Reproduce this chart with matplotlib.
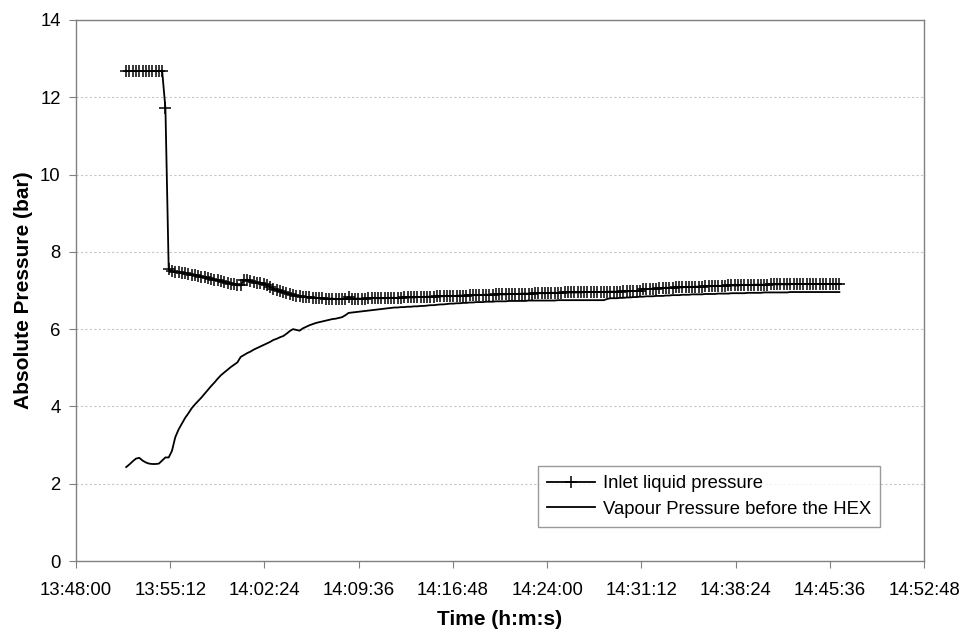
import numpy as np
import matplotlib
matplotlib.use("Agg")
import matplotlib.pyplot as plt

plt.rcParams['font.family'] = ['Liberation Sans', 'DejaVu Sans']

# Sampling: one reading every 15 s starting at 13:51:50
start_time = "13:51:50"
sample_step_s = 15

inlet_liquid_pressure = [
    12.68, 12.68, 12.68, 12.68, 12.68, 12.68, 12.68, 12.68, 12.68, 12.68,
    12.68, 12.68, 11.72, 7.55, 7.50, 7.48, 7.47, 7.45, 7.44, 7.43,
    7.41, 7.40, 7.38, 7.36, 7.34, 7.32, 7.30, 7.28, 7.26, 7.24,
    7.22, 7.20, 7.18, 7.16, 7.14, 7.13, 7.27, 7.28, 7.24, 7.22,
    7.20, 7.19, 7.18, 7.13, 7.09, 7.05, 7.02, 6.99, 6.96, 6.93,
    6.91, 6.89, 6.87, 6.85, 6.84, 6.83, 6.82, 6.81, 6.81, 6.80,
    6.80, 6.79, 6.79, 6.79, 6.78, 6.78, 6.78, 6.79, 6.84, 6.79,
    6.79, 6.79, 6.79, 6.79, 6.80, 6.80, 6.80, 6.80, 6.80, 6.80,
    6.81, 6.81, 6.81, 6.81, 6.81, 6.82, 6.82, 6.82, 6.82, 6.83,
    6.83, 6.83, 6.84, 6.84, 6.84, 6.85, 6.85, 6.85, 6.86, 6.86,
    6.86, 6.86, 6.87, 6.87, 6.87, 6.88, 6.88, 6.88, 6.88, 6.89,
    6.89, 6.89, 6.89, 6.90, 6.90, 6.90, 6.90, 6.91, 6.91, 6.91,
    6.91, 6.92, 6.92, 6.92, 6.92, 6.93, 6.93, 6.93, 6.93, 6.94,
    6.94, 6.94, 6.94, 6.94, 6.95, 6.95, 6.95, 6.95, 6.95, 6.95,
    6.96, 6.96, 6.96, 6.96, 6.96, 6.96, 6.96, 6.97, 6.97, 6.97,
    6.97, 6.97, 6.98, 6.98, 6.98, 6.99, 6.99, 7.00, 7.03, 7.04,
    7.04, 7.05, 7.05, 7.06, 7.06, 7.07, 7.07, 7.07, 7.08, 7.08,
    7.08, 7.09, 7.09, 7.09, 7.10, 7.10, 7.10, 7.11, 7.11, 7.11,
    7.12, 7.12, 7.12, 7.12, 7.13, 7.13, 7.13, 7.13, 7.14, 7.14,
    7.14, 7.14, 7.15, 7.15, 7.15, 7.15, 7.15, 7.16, 7.16, 7.16,
    7.16, 7.16, 7.16, 7.16, 7.17, 7.17, 7.17, 7.17, 7.17, 7.17,
    7.17, 7.17, 7.17, 7.17, 7.17, 7.17, 7.17, 7.17, 7.17,
]

vapour_pressure = [
    2.43, 2.50, 2.58, 2.65, 2.67, 2.60, 2.55, 2.52, 2.51, 2.51,
    2.52, 2.60, 2.68, 2.68, 2.85, 3.20, 3.40, 3.55, 3.70, 3.82,
    3.95, 4.05, 4.14, 4.23, 4.33, 4.43, 4.53, 4.62, 4.72, 4.81,
    4.88, 4.95, 5.02, 5.08, 5.14, 5.28, 5.33, 5.38, 5.42, 5.47,
    5.51, 5.55, 5.59, 5.63, 5.67, 5.72, 5.75, 5.79, 5.82, 5.88,
    5.95, 6.00, 5.98, 5.96, 6.02, 6.06, 6.10, 6.13, 6.16, 6.18,
    6.20, 6.22, 6.24, 6.26, 6.27, 6.29, 6.31, 6.36, 6.42, 6.43,
    6.44, 6.45, 6.46, 6.47, 6.48, 6.49, 6.50, 6.51, 6.52, 6.53,
    6.54, 6.55, 6.56, 6.56, 6.57, 6.57, 6.58, 6.58, 6.59, 6.59,
    6.60, 6.60, 6.61, 6.62, 6.62, 6.63, 6.64, 6.64, 6.65, 6.66,
    6.66, 6.67, 6.67, 6.68, 6.68, 6.69, 6.69, 6.70, 6.70, 6.70,
    6.71, 6.71, 6.71, 6.72, 6.72, 6.72, 6.72, 6.73, 6.73, 6.73,
    6.73, 6.73, 6.73, 6.74, 6.74, 6.74, 6.74, 6.74, 6.74, 6.74,
    6.74, 6.74, 6.75, 6.75, 6.75, 6.75, 6.75, 6.75, 6.75, 6.75,
    6.75, 6.75, 6.75, 6.75, 6.75, 6.75, 6.75, 6.78, 6.80, 6.80,
    6.80, 6.81, 6.81, 6.82, 6.82, 6.83, 6.83, 6.84, 6.84, 6.85,
    6.85, 6.85, 6.86, 6.86, 6.86, 6.87, 6.87, 6.88, 6.88, 6.88,
    6.89, 6.89, 6.89, 6.90, 6.90, 6.90, 6.90, 6.91, 6.91, 6.91,
    6.91, 6.92, 6.92, 6.92, 6.92, 6.93, 6.93, 6.93, 6.93, 6.93,
    6.94, 6.94, 6.94, 6.94, 6.94, 6.95, 6.95, 6.95, 6.95, 6.95,
    6.95, 6.95, 6.95, 6.96, 6.96, 6.96, 6.96, 6.96, 6.96, 6.96,
    6.96, 6.96, 6.96, 6.96, 6.96, 6.96, 6.96, 6.96, 6.96,
]

x_tick_labels = ["13:48:00", "13:55:12", "14:02:24", "14:09:36", "14:16:48",
                 "14:24:00", "14:31:12", "14:38:24", "14:45:36", "14:52:48"]
y_ticks = [0, 2, 4, 6, 8, 10, 12, 14]


def to_sec(s):
    h, m, sec = (int(v) for v in s.split(":"))
    return h * 3600 + m * 60 + sec


t0 = to_sec(start_time)
times = t0 + sample_step_s * np.arange(len(inlet_liquid_pressure))
x_ticks = [to_sec(s) for s in x_tick_labels]

fig = plt.figure(figsize=(9.61, 6.30), dpi=100)
ax = fig.add_axes([76 / 961, 1 - 561 / 630, (924 - 76) / 961, (561 - 20) / 630])

ax.plot(times, inlet_liquid_pressure, color='black', lw=1.3, marker='+',
        markersize=9, markeredgewidth=1.1, label='Inlet liquid pressure', zorder=3)
ax.plot(times, vapour_pressure, color='black', lw=1.3,
        label='Vapour Pressure before the HEX', zorder=3)

ax.set_xlim(x_ticks[0], x_ticks[-1])
ax.set_ylim(0, 14)
ax.set_xticks(x_ticks)
ax.set_xticklabels(x_tick_labels)
ax.set_yticks(y_ticks)
ax.set_yticklabels([str(v) for v in y_ticks])

ax.grid(axis='y', color='#c8c8c8', linestyle=(0, (2, 2)), linewidth=0.8)
for sp in ax.spines.values():
    sp.set_color('#808080')
    sp.set_linewidth(1.0)
ax.tick_params(axis='both', direction='out', length=5, color='#808080',
               labelsize=13.3)
ax.tick_params(axis='x', pad=10)
ax.tick_params(axis='y', pad=6)

ax.set_xlabel('Time (h:m:s)', fontsize=15, fontweight='bold', labelpad=8)
ax.set_ylabel('Absolute Pressure (bar)', fontsize=15, fontweight='bold', labelpad=5)

leg = ax.legend(loc='lower right', bbox_to_anchor=(880 / 961, 1 - 527 / 630),
                bbox_transform=fig.transFigure, borderaxespad=0,
                fontsize=13.3, frameon=True,
                fancybox=False, edgecolor='#808080', handlelength=2.6,
                handletextpad=0.4, borderpad=0.5, labelspacing=0.45)
leg.get_frame().set_linewidth(1.0)

fig.savefig('out.png', dpi=100)
